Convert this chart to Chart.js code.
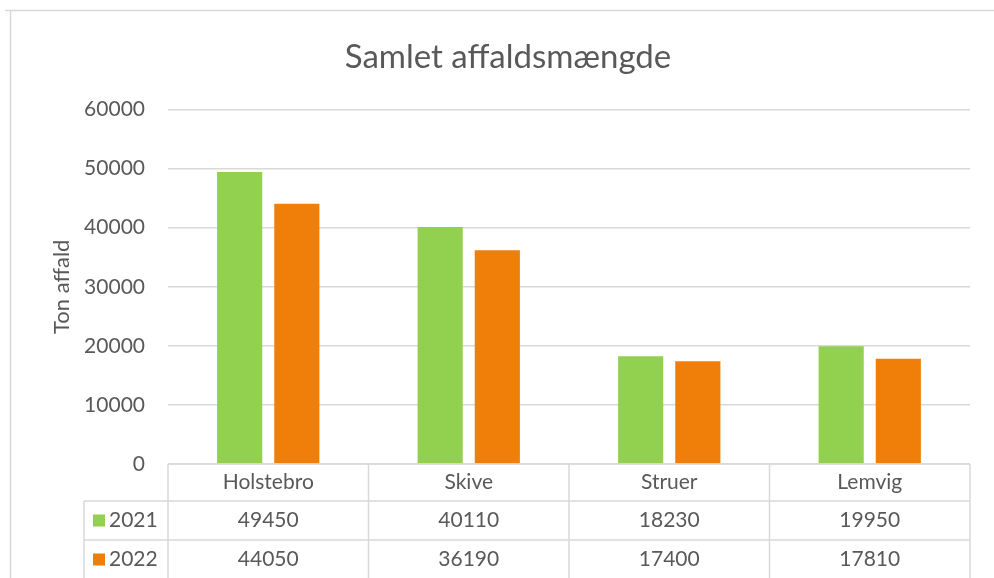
<!DOCTYPE html>
<html>
<head>
<meta charset="utf-8">
<script src="https://cdn.jsdelivr.net/npm/chart.js@4.4.1/dist/chart.umd.min.js"></script>
<style>
  html, body { margin: 0; padding: 0; background: #fff; }
  #wrap { width: 994px; height: 578px; position: relative; }
</style>
</head>
<body>
<div id="wrap"><canvas id="grafico"></canvas></div>
<script>
// Data
const kommuner = ['Holstebro', 'Skive', 'Struer', 'Lemvig'];
const aar = ['2021', '2022'];
const affald2021 = [49450, 40110, 18230, 19950];
const affald2022 = [44050, 36190, 17400, 17810];
const yTicks = [0, 10000, 20000, 30000, 40000, 50000, 60000];

const farver = ['#92d050', '#f07f09'];
const tekstFarve = '#595959';
const linjeFarve = '#d9d9d9';
const skrift = 'Lato, "Open Sans", sans-serif';

// Ramme omkring diagrammet
const rammePlugin = {
    id: 'ramme',
    beforeDraw(chart) {
        const ctx = chart.ctx;
        ctx.save();
        ctx.strokeStyle = linjeFarve;
        ctx.lineWidth = 1.5;
        ctx.beginPath();
        ctx.moveTo(5, 10.5);
        ctx.lineTo(994, 10.5);
        ctx.moveTo(10.5, 10);
        ctx.lineTo(10.5, 578);
        ctx.stroke();
        ctx.restore();
    }
};

// Datatabel under diagrammet
const tabelPlugin = {
    id: 'datatabel',
    afterDraw(chart) {
        const ctx = chart.ctx;
        const x = chart.scales.x;
        const area = chart.chartArea;
        const bredde = (area.right - area.left) / kommuner.length;
        const rækker = [area.bottom, area.bottom + 37, area.bottom + 76, area.bottom + 115];
        const venstre = 84;
        const serier = [affald2021, affald2022];

        ctx.save();
        ctx.strokeStyle = linjeFarve;
        ctx.lineWidth = 1.5;
        ctx.beginPath();
        // vandrette linjer
        ctx.moveTo(area.left, rækker[0]);
        ctx.lineTo(area.right, rækker[0]);
        for (let r = 1; r < rækker.length; r++) {
            ctx.moveTo(venstre, rækker[r]);
            ctx.lineTo(area.right, rækker[r]);
        }
        // lodrette linjer
        ctx.moveTo(venstre, rækker[1]);
        ctx.lineTo(venstre, rækker[3]);
        for (let i = 0; i <= kommuner.length; i++) {
            const px = area.left + i * bredde;
            ctx.moveTo(px, rækker[0]);
            ctx.lineTo(px, rækker[3]);
        }
        ctx.stroke();

        ctx.fillStyle = tekstFarve;
        ctx.font = '21px ' + skrift;
        ctx.textAlign = 'center';
        ctx.textBaseline = 'middle';
        kommuner.forEach((navn, i) => {
            const cx = x.getPixelForValue(i);
            ctx.fillText(navn, cx, (rækker[0] + rækker[1]) / 2);
            serier.forEach((serie, s) => {
                ctx.fillText(String(serie[i]), cx, (rækker[s + 1] + rækker[s + 2]) / 2);
            });
        });

        // forklaring i første kolonne
        aar.forEach((a, s) => {
            const cy = (rækker[s + 1] + rækker[s + 2]) / 2;
            ctx.fillStyle = farver[s];
            ctx.fillRect(93, cy - 6, 12, 12);
            ctx.fillStyle = tekstFarve;
            ctx.textAlign = 'left';
            ctx.fillText(a, 109, cy);
        });
        ctx.restore();
    }
};

const ctx = document.getElementById('grafico').getContext('2d');
new Chart(ctx, {
    type: 'bar',
    data: {
        labels: kommuner,
        datasets: [
            { label: aar[0], data: affald2021, backgroundColor: farver[0] },
            { label: aar[1], data: affald2022, backgroundColor: farver[1] }
        ]
    },
    options: {
        responsive: true,
        maintainAspectRatio: false,
        animation: false,
        categoryPercentage: 0.57,
        barPercentage: 0.79,
        layout: { padding: { left: 46, right: 24, top: 0, bottom: 114 } },
        plugins: {
            legend: { display: false },
            tooltip: { enabled: false },
            title: {
                display: true,
                text: 'Samlet affaldsmængde',
                color: tekstFarve,
                font: { family: skrift, size: 33, weight: 'normal' },
                padding: { top: 38, bottom: 32 }
            }
        },
        scales: {
            x: { display: false },
            y: {
                min: 0,
                max: 60000,
                afterBuildTicks(axis) {
                    axis.ticks = yTicks.map(v => ({ value: v }));
                },
                afterFit(axis) { axis.width = 122; },
                border: { display: false },
                grid: { color: linjeFarve, lineWidth: 1.5, drawTicks: false },
                ticks: {
                    color: tekstFarve,
                    padding: 23,
                    font: { family: skrift, size: 21 },
                    callback: (v) => String(v)
                },
                title: {
                    display: true,
                    text: 'Ton affald',
                    color: tekstFarve,
                    font: { family: skrift, size: 22 },
                    padding: { top: 3, bottom: 0 }
                }
            }
        }
    },
    plugins: [rammePlugin, tabelPlugin]
});
</script>
</body>
</html>
